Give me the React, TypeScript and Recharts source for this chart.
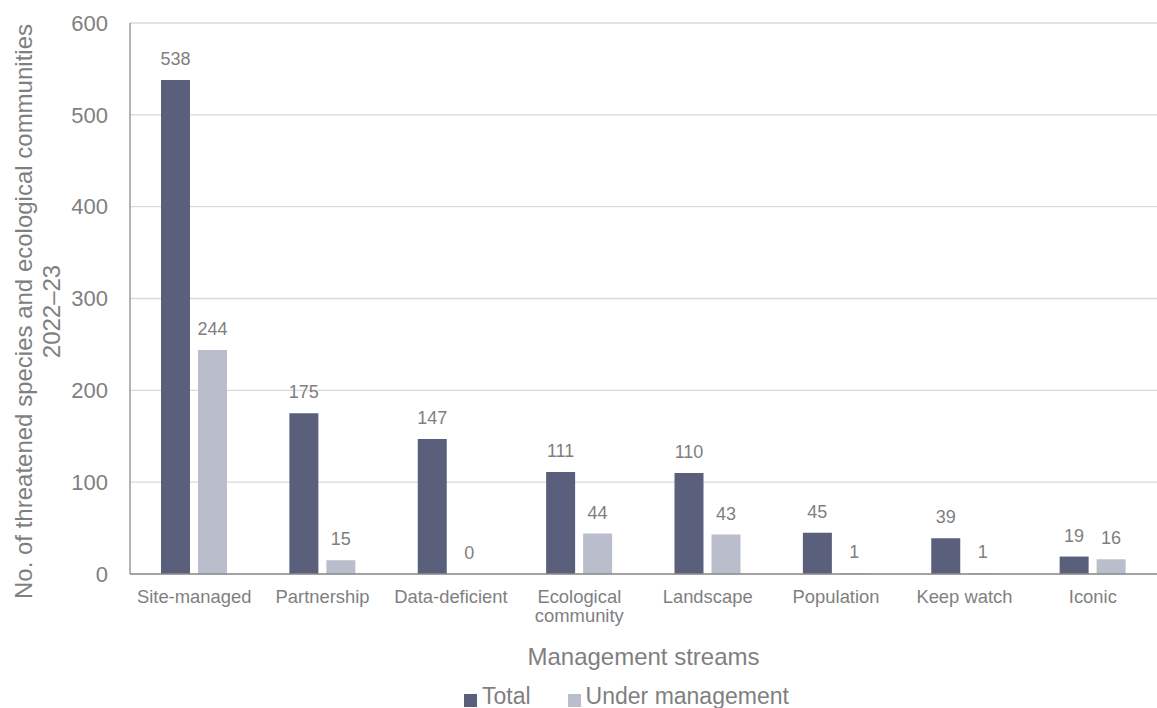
import React from "react";
import {
  Bar,
  BarChart,
  CartesianGrid,
  LabelList,
  Legend,
  XAxis,
  YAxis
} from "recharts";

const categories = [
  "Site-managed",
  "Partnership",
  "Data-deficient",
  "Ecological community",
  "Landscape",
  "Population",
  "Keep watch",
  "Iconic"
];
const totalValues = [538, 175, 147, 111, 110, 45, 39, 19];
const underManagementValues = [244, 15, 0, 44, 43, 1, 1, 16];
const yTicks = [0, 100, 200, 300, 400, 500, 600];

const FONT = "'Liberation Sans', Arial, sans-serif";
const TEXT = "#7f7f7f";
const DARK = "#5a5f7c";
const LIGHT = "#b9bdcc";
const AXIS = "#8c8c8c";

const rows = categories.map((name, i) => ({
  name,
  total: totalValues[i],
  under: underManagementValues[i]
}));

function CategoryTick({ x, y, payload }: any) {
  const label = String(payload.value);
  // long names wrap onto two lines like the original
  const lines = label.length > 16 ? [label.slice(0, label.indexOf(" ")), label.slice(label.indexOf(" ") + 1)] : [label];
  return (
    <text x={x} y={y} textAnchor="middle" fill={TEXT} fontSize={18.4} fontFamily={FONT}>
      {lines.map((line, i) => (
        <tspan key={line} x={x} dy={i === 0 ? 29 : 19}>
          {line}
        </tspan>
      ))}
    </text>
  );
}

function YTitle({ viewBox }: any) {
  const cy = viewBox.y + viewBox.height / 2 + 13;
  return (
    <g fill={TEXT} fontSize={24} fontFamily={FONT}>
      <text x={32} y={cy} textAnchor="middle" transform={`rotate(-90, 32, ${cy})`}>
        No. of threatened species and ecological communities
      </text>
      <text x={60} y={cy} textAnchor="middle" transform={`rotate(-90, 60, ${cy})`}>
        2022–23
      </text>
    </g>
  );
}

function XTitle({ viewBox }: any) {
  return (
    <text
      x={viewBox.x + viewBox.width / 2}
      y={viewBox.y + 91}
      textAnchor="middle"
      fill={TEXT}
      fontSize={24}
      fontFamily={FONT}
    >
      Management streams
    </text>
  );
}

function LegendContent() {
  const items = [
    { label: "Total", color: DARK },
    { label: "Under management", color: LIGHT }
  ];
  return (
    <div
      style={{
        display: "flex",
        alignItems: "flex-start",
        paddingLeft: 464,
        paddingTop: 7,
        height: 30,
        boxSizing: "border-box",
        fontFamily: FONT,
        fontSize: 23,
        lineHeight: "23px",
        color: TEXT
      }}
    >
      {items.map((item, i) => (
        <div key={item.label} style={{ display: "flex", alignItems: "flex-start", marginRight: i === 0 ? 37 : 0 }}>
          <span style={{ width: 13, height: 13, marginTop: 9, marginRight: 5, background: item.color, display: "inline-block" }} />
          <span>{item.label}</span>
        </div>
      ))}
    </div>
  );
}

export default function App() {
  return (
    <div style={{ position: "absolute", left: 0, top: 0, width: 1157, height: 708, background: "#fff", overflow: "hidden" }}>
      <BarChart
        width={1157}
        height={708}
        data={rows}
        margin={{ top: 23, right: 0, bottom: 0, left: 0 }}
        barSize={29}
        barGap={8}
      >
        <CartesianGrid vertical={false} stroke="#d9d9d9" strokeWidth={1.3} />
        <XAxis
          dataKey="name"
          height={104}
          interval={0}
          tickLine={false}
          tickSize={0}
          tickMargin={0}
          axisLine={{ stroke: AXIS, strokeWidth: 1.3 }}
          tick={<CategoryTick />}
          label={<XTitle />}
        />
        <YAxis
          width={130}
          domain={[0, 600]}
          ticks={yTicks}
          tickLine={false}
          tickSize={0}
          tickMargin={22}
          axisLine={{ stroke: AXIS, strokeWidth: 1.3 }}
          tick={{ fill: TEXT, fontSize: 22, fontFamily: FONT }}
          label={<YTitle />}
        />
        <Legend
          verticalAlign="bottom"
          align="left"
          content={<LegendContent />}
          wrapperStyle={{ left: 0, width: 1157, height: 30 }}
        />
        <Bar dataKey="total" name="Total" fill={DARK} isAnimationActive={false}>
          <LabelList dataKey="total" position="top" offset={15} fill={TEXT} fontSize={18} fontFamily={FONT} />
        </Bar>
        <Bar dataKey="under" name="Under management" fill={LIGHT} minPointSize={0.01} isAnimationActive={false}>
          <LabelList dataKey="under" position="top" offset={15} fill={TEXT} fontSize={18} fontFamily={FONT} />
        </Bar>
      </BarChart>
    </div>
  );
}
